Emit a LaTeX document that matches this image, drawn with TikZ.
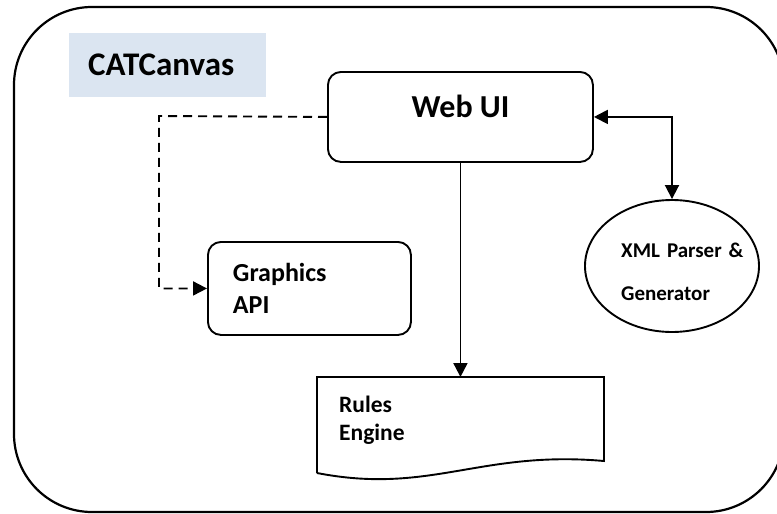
\documentclass[tikz,border=0pt]{standalone}
\usepackage{fontspec}
\setmainfont{Carlito}
\usetikzlibrary{arrows.meta,shapes.geometric}
\definecolor{titleblue}{HTML}{DBE5F1}

\begin{document}
\begin{tikzpicture}[x=1pt,y=-1pt,
  frame/.style={draw=black, line width=2.2pt, rounded corners=78pt},
  rbox/.style={draw=black, line width=1.9pt, rounded corners=13pt, inner sep=0pt},
  conn/.style={draw=black, line width=1.9pt},
  tipend/.style={-{Triangle[length=14pt,width=14pt]}},
  tipboth/.style={{Triangle[length=14pt,width=14pt]}-{Triangle[length=14pt,width=14pt]}},
  dashline/.style={dash pattern=on 9pt off 6pt},
  midtxt/.style={font=\fontsize{26}{32}\selectfont\bfseries, align=left},
]
\useasboundingbox (0,0) rectangle (777,514);

% outer canvas frame (runs past the right edge)
\draw[frame] (14,7) rectangle (784,512);

% title tag
\node[fill=titleblue, anchor=north west, minimum width=197pt, minimum height=64pt,
      text width=159pt, inner xsep=19pt, inner ysep=0pt, align=left,
      font=\fontsize{33}{38}\selectfont\bfseries]
      (title) at (69,33) {CATCanvas};

% Web UI box
\node[rbox, anchor=north west, minimum width=265pt, minimum height=90pt,
      text height=21pt, text depth=19pt, font=\fontsize{32}{38}\selectfont\bfseries]
      (web) at (327,71) {Web UI};

% Graphics API box
\node[rbox, anchor=north west, minimum width=203pt, minimum height=93pt,
      text width=153pt, inner xsep=25pt, midtxt] (gfx) at (207,241) {Graphics\\API};

% Rules Engine document shape
\node[anchor=north west, minimum width=287pt, minimum height=96pt, inner sep=0pt]
      (rules) at (317,377) {};
\draw[conn] (317,473) -- (317,377) -- (604,377) -- (604,461)
      .. controls (480,450) and (430,495) .. (317,473);
\node[anchor=base west, inner sep=0pt, text width=243pt,
      font=\fontsize{23.5}{28}\selectfont\bfseries, align=left]
      (rulestext) at (339,412) {Rules\\Engine};

% XML parser ellipse
\node[conn, ellipse, minimum width=174pt, minimum height=132pt, inner sep=0pt]
      (xml) at (672,266) {};
\node[anchor=base west, inner sep=0pt, text width=130pt,
      font=\fontsize{21}{43}\selectfont\bfseries, align=left]
      (xmltext) at (621,257) {XML Parser \&\\Generator};

% connectors
\coordinate (dashcorner) at (159,116);
\draw[conn, tipend] (web.south) -- (web.south |- rules.north);
\draw[conn, dashline, tipend] (web.west) -- (dashcorner) |- (gfx.west);
\draw[conn, tipboth] (web.east) -| (xml.north);
\end{tikzpicture}
\end{document}
